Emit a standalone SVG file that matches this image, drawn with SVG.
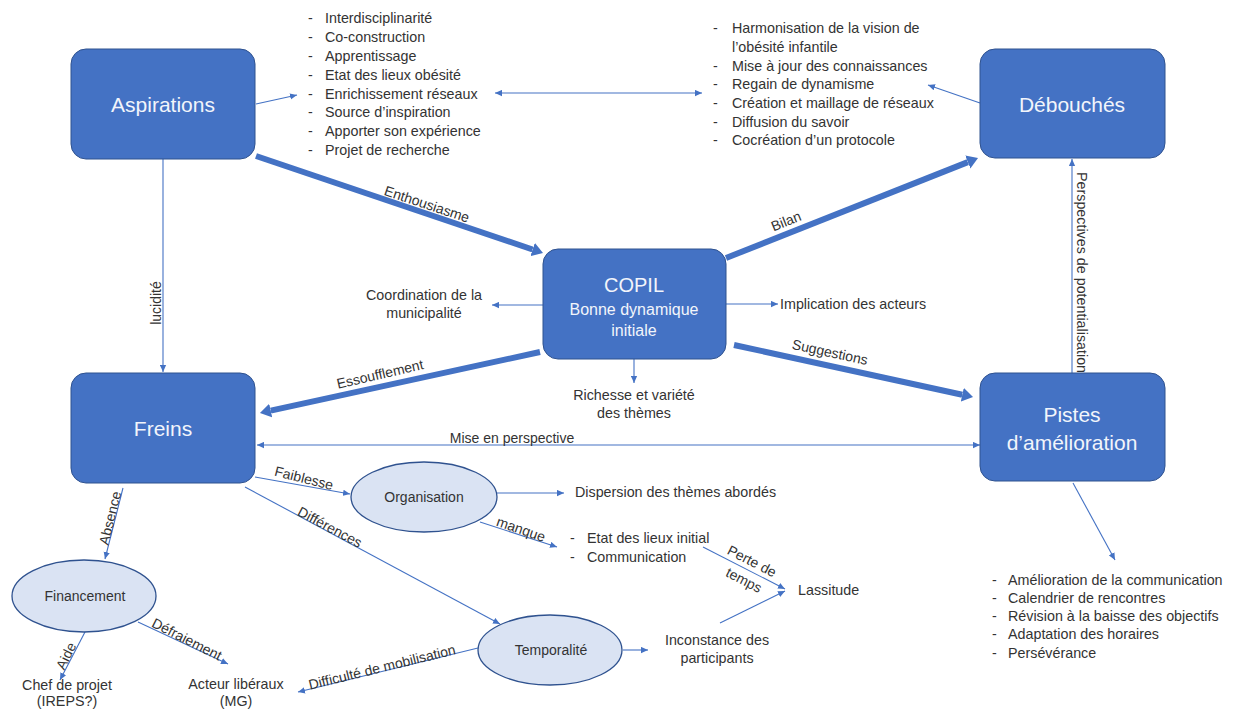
<svg xmlns="http://www.w3.org/2000/svg" width="1238" height="711" viewBox="0 0 1238 711">
<style>
text{font-family:'Liberation Sans',Arial,sans-serif}
.box{fill:#4472c4;stroke:#2f528f;stroke-width:1}
.bt{font-size:21px;fill:#f2f5fb;text-anchor:middle}
.el{fill:#dae3f3;stroke:#2f528f;stroke-width:1.3}
.et{font-size:14px;fill:#333;text-anchor:middle}
.t{font-size:14.3px;fill:#333}
.tc{font-size:14.3px;fill:#333;text-anchor:middle}
.lb{font-size:14px;fill:#333;text-anchor:middle}
.thin{stroke:#4472c4;stroke-width:1.1;fill:none;marker-end:url(#a)}
.both{stroke:#4472c4;stroke-width:1.1;fill:none;marker-end:url(#a);marker-start:url(#a)}
.thick{stroke:#4472c4;stroke-width:6;fill:none;marker-end:url(#A)}
</style>
<defs>
<marker id="a" viewBox="0 0 10 10" refX="10" refY="5" markerWidth="7" markerHeight="7" markerUnits="userSpaceOnUse" orient="auto-start-reverse"><path d="M0,0.5 L10,5 L0,9.5 z" fill="#4472c4"/></marker>
<marker id="A" viewBox="0 0 11 14" refX="0" refY="7" markerWidth="11" markerHeight="14" markerUnits="userSpaceOnUse" orient="auto"><path d="M0,0 L11,7 L0,14 z" fill="#4472c4"/></marker>
</defs>
<rect width="1238" height="711" fill="#fff"/>

<g id="connectors">
<line class="thick" x1="256" y1="156" x2="532.6" y2="249.5"/>
<line class="thick" x1="726" y1="258" x2="967.8" y2="162.1"/>
<line class="thick" x1="734" y1="345" x2="962.3" y2="394.7"/>
<line class="thick" x1="540" y1="352" x2="270.7" y2="410.6"/>
<text class="lb" transform="translate(427,204) rotate(18.4)" y="5">Enthousiasme</text>
<text class="lb" transform="translate(786,221) rotate(-21.7)" y="5">Bilan</text>
<text class="lb" transform="translate(830,352) rotate(12.3)" y="5">Suggestions</text>
<text class="lb" transform="translate(380,374) rotate(-13)" y="5">Essoufflement</text>
<line class="thin" x1="256" y1="104" x2="297" y2="95"/>
<line class="both" x1="495" y1="93" x2="702" y2="93"/>
<line class="thin" x1="980" y1="103" x2="928" y2="85"/>
<line class="thin" x1="163" y1="159" x2="163" y2="372"/>
<text class="lb" transform="translate(156,303) rotate(-90)" y="5">lucidité</text>
<line class="thin" x1="543" y1="305" x2="492" y2="305"/>
<line class="thin" x1="726" y1="304" x2="778" y2="304"/>
<line class="thin" x1="634" y1="359" x2="634" y2="383"/>
<line class="both" x1="257" y1="445" x2="980" y2="445"/>
<text class="lb" x="512" y="443">Mise en perspective</text>
<line class="thin" x1="1072" y1="373" x2="1072" y2="159"/>
<text class="t" transform="translate(1077,172) rotate(90)" x="0" y="0">Perspectives de potentialisation</text>
<line class="thin" x1="1073" y1="483" x2="1115" y2="560"/>
<line class="thin" x1="255" y1="477" x2="350" y2="494"/>
<text class="lb" transform="translate(304,478) rotate(14)" y="5">Faiblesse</text>
<line class="thin" x1="245" y1="487" x2="500" y2="624"/>
<text class="lb" transform="translate(330,527) rotate(28)" y="5">Différences</text>
<line class="thin" x1="497" y1="493" x2="564" y2="493"/>
<line class="thin" x1="480" y1="522" x2="557" y2="547"/>
<text class="lb" transform="translate(521,529) rotate(19)" y="5">manque</text>
<line class="thin" x1="703" y1="547" x2="785" y2="589"/>
<text class="lb" transform="translate(752,561) rotate(27)" y="5">Perte de</text>
<text class="lb" transform="translate(744,580) rotate(27)" y="5">temps</text>
<line class="thin" x1="720" y1="623" x2="785" y2="591"/>
<line class="thin" x1="623" y1="650" x2="648" y2="650"/>
<line class="thin" x1="478" y1="648" x2="298" y2="692"/>
<text class="lb" transform="translate(382,667) rotate(-13.7)" y="5">Difficulté de mobilisation</text>
<line class="thin" x1="123" y1="488" x2="105" y2="559"/>
<text class="lb" transform="translate(110,518) rotate(-76)" y="5">Absence</text>
<line class="thin" x1="85" y1="632" x2="60" y2="680"/>
<text class="lb" transform="translate(66,656) rotate(-64)" y="5">Aide</text>
<line class="thin" x1="138" y1="622" x2="228" y2="664"/>
<text class="lb" transform="translate(187,639) rotate(27)" y="5">Défraiement</text>
</g>

<g id="aspirations"><rect class="box" x="71" y="49" width="184" height="110" rx="15"/><text class="bt" x="163" y="112">Aspirations</text></g>
<g id="debouches"><rect class="box" x="980" y="49" width="185" height="109" rx="15"/><text class="bt" x="1072" y="112">Débouchés</text></g>
<g id="copil"><rect class="box" x="543" y="249" width="183" height="110" rx="15"/><text class="bt" x="634" y="292" style="font-size:20px">COPIL</text><text class="bt" x="634" y="315" style="font-size:16px">Bonne dynamique</text><text class="bt" x="634" y="336" style="font-size:16px">initiale</text></g>
<g id="freins"><rect class="box" x="71" y="373" width="184" height="110" rx="15"/><text class="bt" x="163" y="436">Freins</text></g>
<g id="pistes"><rect class="box" x="980" y="373" width="185" height="108" rx="15"/><text class="bt" x="1072" y="422">Pistes</text><text class="bt" x="1072" y="450">d’amélioration</text></g>

<g id="organisation"><ellipse class="el" cx="424" cy="497" rx="73" ry="35"/><text class="et" x="424" y="502">Organisation</text></g>
<g id="financement"><ellipse class="el" cx="84" cy="596" rx="72" ry="36"/><text class="et" x="85" y="601">Financement</text></g>
<g id="temporalite"><ellipse class="el" cx="550" cy="650" rx="72" ry="35"/><text class="et" x="551" y="655">Temporalité</text></g>

<g id="aspirations-list" class="t">
<text x="308" y="23">-</text><text x="325" y="23">Interdisciplinarité</text>
<text x="308" y="42">-</text><text x="325" y="42">Co-construction</text>
<text x="308" y="61">-</text><text x="325" y="61">Apprentissage</text>
<text x="308" y="80">-</text><text x="325" y="80">Etat des lieux obésité</text>
<text x="308" y="99">-</text><text x="325" y="99">Enrichissement réseaux</text>
<text x="308" y="117">-</text><text x="325" y="117">Source d’inspiration</text>
<text x="308" y="136">-</text><text x="325" y="136">Apporter son expérience</text>
<text x="308" y="155">-</text><text x="325" y="155">Projet de recherche</text>
</g>
<g id="debouches-list" class="t">
<text x="713" y="33">-</text><text x="732" y="33">Harmonisation de la vision de</text>
<text x="732" y="52">l’obésité infantile</text>
<text x="713" y="71">-</text><text x="732" y="71">Mise à jour des connaissances</text>
<text x="713" y="89">-</text><text x="732" y="89">Regain de dynamisme</text>
<text x="713" y="108">-</text><text x="732" y="108">Création et maillage de réseaux</text>
<text x="713" y="127">-</text><text x="732" y="127">Diffusion du savoir</text>
<text x="713" y="145">-</text><text x="732" y="145">Cocréation d’un protocole</text>
</g>
<g id="coordination"><text class="tc" x="424" y="300">Coordination de la</text><text class="tc" x="424" y="318">municipalité</text></g>
<g id="implication"><text class="t" x="780" y="309">Implication des acteurs</text></g>
<g id="richesse"><text class="tc" x="634" y="400">Richesse et variété</text><text class="tc" x="634" y="418">des thèmes</text></g>
<g id="dispersion"><text class="t" x="575" y="497">Dispersion des thèmes abordés</text></g>
<g id="manque-list" class="t"><text x="570" y="543">-</text><text x="587" y="543">Etat des lieux initial</text><text x="570" y="562">-</text><text x="587" y="562">Communication</text></g>
<g id="lassitude"><text class="t" x="798" y="595">Lassitude</text></g>
<g id="inconstance"><text class="tc" x="717" y="645">Inconstance des</text><text class="tc" x="717" y="663">participants</text></g>
<g id="acteurs"><text class="tc" x="236" y="689">Acteur libéraux</text><text class="tc" x="236" y="706">(MG)</text></g>
<g id="chef"><text class="tc" x="67" y="690">Chef de projet</text><text class="tc" x="67" y="706">(IREPS?)</text></g>
<g id="pistes-list" class="t">
<text x="992" y="585">-</text><text x="1008" y="585">Amélioration de la communication</text>
<text x="992" y="603">-</text><text x="1008" y="603">Calendrier de rencontres</text>
<text x="992" y="621">-</text><text x="1008" y="621">Révision à la baisse des objectifs</text>
<text x="992" y="639">-</text><text x="1008" y="639">Adaptation des horaires</text>
<text x="992" y="658">-</text><text x="1008" y="658">Persévérance</text>
</g>
</svg>
